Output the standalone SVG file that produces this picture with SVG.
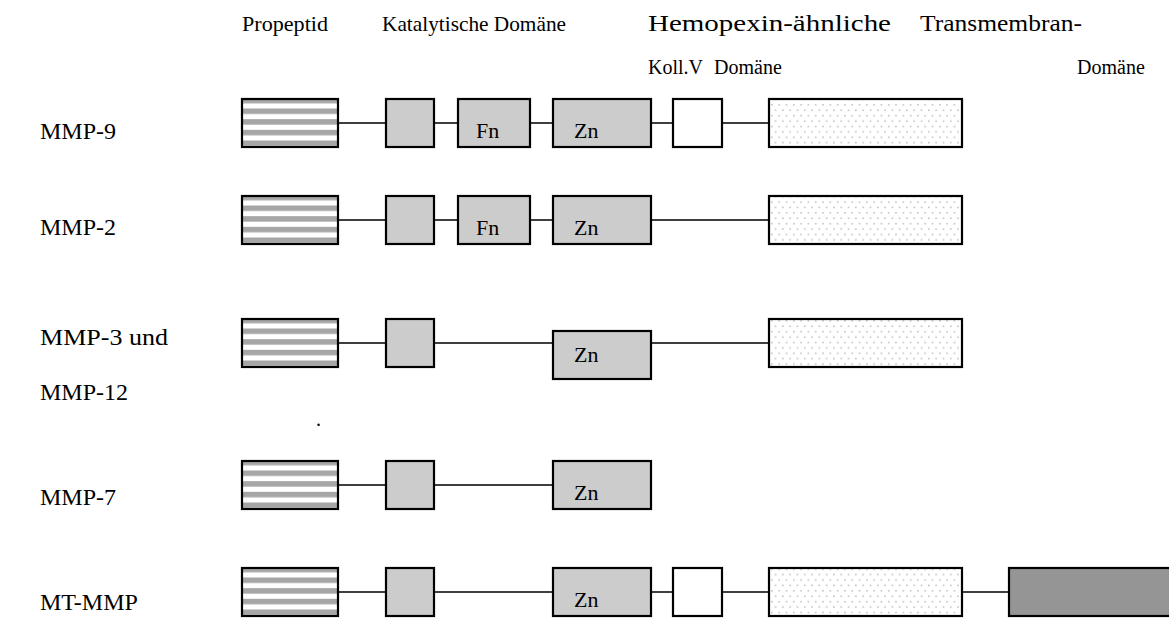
<svg xmlns="http://www.w3.org/2000/svg" width="1169" height="627" viewBox="0 0 1169 627">
<defs>
<pattern id="stripes" patternUnits="objectBoundingBox" x="0" y="-0.0244" width="1" height="0.2222" patternContentUnits="userSpaceOnUse">
<rect x="0" y="0" width="200" height="10.67" fill="#ffffff"/>
<rect x="0" y="0" width="200" height="5.5" fill="#a6a6a6"/>
</pattern>
<pattern id="dots" patternUnits="userSpaceOnUse" x="0" y="0" width="7.3" height="10.8">
<rect width="7.3" height="10.8" fill="#ffffff"/>
<rect x="1" y="1.5" width="1.5" height="1.5" fill="#bcbcbc"/>
<rect x="4.65" y="6.9" width="1.5" height="1.5" fill="#bcbcbc"/>
</pattern>
</defs>
<style>
.t{font-family:"Liberation Serif","Times New Roman",serif;fill:#000}
.h{font-size:22px}
.hb{font-size:23.5px}
.h2{font-size:20px}
.l{font-size:24px}
.in{font-size:22px}
.b{stroke:#000;stroke-width:2.2}
.pro{fill:url(#stripes)}
.cat{fill:#cccccc}
.kol{fill:#ffffff}
.hem{fill:url(#dots)}
.tm{fill:#959595}
.c{stroke:#000;stroke-width:1.6;fill:none}
</style>
<rect width="1169" height="627" fill="#ffffff"/>
<g id="headers">
<text class="t h" x="242" y="31" textLength="86" lengthAdjust="spacingAndGlyphs">Propeptid</text>
<text class="t h" x="382" y="31" textLength="184" lengthAdjust="spacingAndGlyphs">Katalytische Domäne</text>
<text class="t hb" x="648" y="31" textLength="243" lengthAdjust="spacingAndGlyphs">Hemopexin-ähnliche</text>
<text class="t hb" x="920" y="31" textLength="162" lengthAdjust="spacingAndGlyphs">Transmembran-</text>
<text class="t h2" x="648" y="74">Koll.V</text>
<text class="t h2" x="714" y="74">Domäne</text>
<text class="t h2" x="1077" y="74">Domäne</text>
</g>
<g id="labels">
<text class="t l" x="40" y="139">MMP-9</text>
<text class="t l" x="40" y="235">MMP-2</text>
<text class="t l" x="40" y="345" textLength="128" lengthAdjust="spacingAndGlyphs">MMP-3 und</text>
<text class="t l" x="40" y="400">MMP-12</text>
<text class="t l" x="40" y="505">MMP-7</text>
<text class="t l" x="40" y="610">MT-MMP</text>
<text class="t h2" x="316" y="426">.</text>
</g>
<g id="connectors">
<path class="c" d="M338 123H386M434 123H458M530 123H553M651 123H673M722 123H769"/>
<path class="c" d="M338 220H386M434 220H458M530 220H553M651 220H769"/>
<path class="c" d="M338 343H386M434 343H553M651 343H769"/>
<path class="c" d="M338 485H386M434 485H553"/>
<path class="c" d="M338 592H386M434 592H553M651 592H673M722 592H769M962 592H1009"/>
</g>
<g id="mmp9">
<rect class="b pro" x="242" y="99" width="96" height="48"/>
<rect class="b cat" x="386" y="99" width="48" height="48"/>
<rect class="b cat" x="458" y="99" width="72" height="48"/>
<text class="t in" x="476" y="138">Fn</text>
<rect class="b cat" x="553" y="99" width="98" height="48"/>
<text class="t in" x="574" y="138">Zn</text>
<rect class="b kol" x="673" y="99" width="49" height="48"/>
<rect class="b hem" x="769" y="99" width="193" height="48"/>
</g>
<g id="mmp2">
<rect class="b pro" x="242" y="196" width="96" height="48"/>
<rect class="b cat" x="386" y="196" width="48" height="48"/>
<rect class="b cat" x="458" y="196" width="72" height="48"/>
<text class="t in" x="476" y="235">Fn</text>
<rect class="b cat" x="553" y="196" width="98" height="48"/>
<text class="t in" x="574" y="235">Zn</text>
<rect class="b hem" x="769" y="196" width="193" height="48"/>
</g>
<g id="mmp3">
<rect class="b pro" x="242" y="319" width="96" height="48"/>
<rect class="b cat" x="386" y="319" width="48" height="48"/>
<rect class="b cat" x="553" y="331" width="98" height="48"/>
<text class="t in" x="574" y="362">Zn</text>
<rect class="b hem" x="769" y="319" width="193" height="48"/>
</g>
<g id="mmp7">
<rect class="b pro" x="242" y="461" width="96" height="48"/>
<rect class="b cat" x="386" y="461" width="48" height="48"/>
<rect class="b cat" x="553" y="461" width="98" height="48"/>
<text class="t in" x="574" y="500">Zn</text>
</g>
<g id="mtmmp">
<rect class="b pro" x="242" y="568" width="96" height="48"/>
<rect class="b cat" x="386" y="568" width="48" height="48"/>
<rect class="b cat" x="553" y="568" width="98" height="48"/>
<text class="t in" x="574" y="607">Zn</text>
<rect class="b kol" x="673" y="568" width="49" height="48"/>
<rect class="b hem" x="769" y="568" width="193" height="48"/>
<rect class="b tm" x="1009" y="568" width="165" height="48"/>
</g>
</svg>
